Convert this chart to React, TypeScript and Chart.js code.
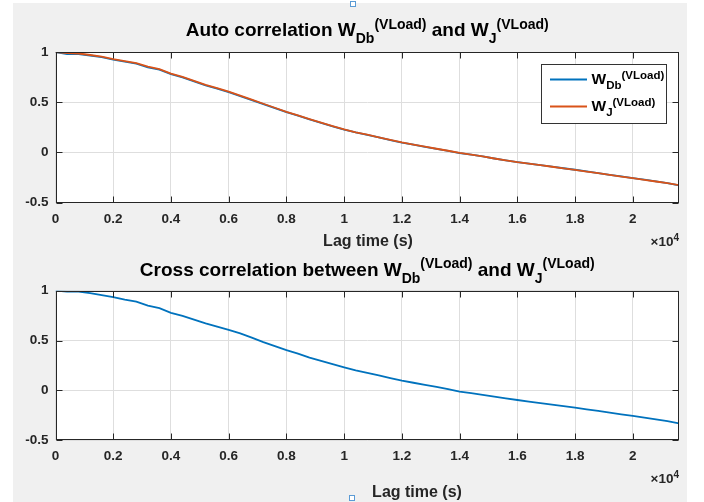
import React, { useEffect, useRef } from 'react';
import { Chart, registerables } from 'chart.js';

Chart.register(...registerables);

// ---------- data ----------
const lagTimes = [
  0, 400, 800, 1200, 1600, 2000, 2400, 2800, 3200, 3600, 4000, 4400, 4800, 5200,
  5600, 6000, 6400, 6800, 7200, 7600, 8000, 8400, 8800, 9200, 9600, 10000, 10400,
  10800, 11200, 11600, 12000, 12400, 12800, 13200, 13600, 14000, 14400, 14800,
  15200, 15600, 16000, 16400, 16800, 17200, 17600, 18000, 18400, 18800, 19200,
  19600, 20000, 20400, 20800, 21200, 21600,
];

const autoDb = [
  1.0, 0.98, 0.98, 0.965, 0.948, 0.925, 0.905, 0.885, 0.848, 0.825, 0.78, 0.747,
  0.707, 0.667, 0.635, 0.6, 0.56, 0.522, 0.482, 0.442, 0.402, 0.367, 0.33, 0.294,
  0.26, 0.228, 0.2, 0.175, 0.149, 0.124, 0.099, 0.078, 0.056, 0.036, 0.016,
  -0.006, -0.022, -0.04, -0.06, -0.079, -0.096, -0.111, -0.126, -0.141, -0.157,
  -0.172, -0.189, -0.205, -0.222, -0.239, -0.255, -0.271, -0.288, -0.305, -0.327,
];

const autoJ = [
  1.0, 0.99, 0.985, 0.97, 0.955, 0.93, 0.91, 0.89, 0.855, 0.83, 0.785, 0.752,
  0.712, 0.672, 0.64, 0.605, 0.565, 0.525, 0.485, 0.445, 0.405, 0.37, 0.332,
  0.296, 0.262, 0.23, 0.201, 0.177, 0.15, 0.125, 0.1, 0.079, 0.057, 0.037, 0.017,
  -0.005, -0.022, -0.04, -0.06, -0.079, -0.097, -0.112, -0.127, -0.142, -0.158,
  -0.173, -0.19, -0.206, -0.223, -0.24, -0.256, -0.272, -0.289, -0.305, -0.325,
];

const crossDbJ = [
  1.0, 0.99, 0.99, 0.975, 0.955, 0.935, 0.91, 0.89, 0.85, 0.825, 0.778, 0.748,
  0.71, 0.672, 0.64, 0.608, 0.572, 0.53, 0.485, 0.445, 0.405, 0.37, 0.33, 0.296,
  0.263, 0.232, 0.202, 0.176, 0.15, 0.123, 0.098, 0.077, 0.056, 0.035, 0.013,
  -0.012, -0.028, -0.045, -0.063, -0.08, -0.096, -0.112, -0.127, -0.142, -0.158,
  -0.173, -0.19, -0.206, -0.223, -0.24, -0.256, -0.272, -0.29, -0.308, -0.33,
];

const xTicks = [0, 2000, 4000, 6000, 8000, 10000, 12000, 14000, 16000, 18000, 20000];
const xTickLabels = ['0', '0.2', '0.4', '0.6', '0.8', '1', '1.2', '1.4', '1.6', '1.8', '2'];
const yTicks = [-0.5, 0, 0.5, 1];
const yTickLabels = ['-0.5', '0', '0.5', '1'];
const xMin = 0;
const xMax = 21600;
const yMin = -0.5;
const yMax = 1;

const xLabelText = 'Lag time (s)';
const legendNames = [
  { main: 'W', sub: 'Db', sup: '(VLoad)' },
  { main: 'W', sub: 'J', sup: '(VLoad)' },
];

// ---------- styling ----------
const BLUE = '#0072BD';
const ORANGE = '#D95319';
const AXIS = '#262626';
const GRID = '#dedede';
const FONT = '"Liberation Sans", Arial, Helvetica, sans-serif';
const W = 704;
const H = 502;

type Seg = { t: string; size: number; dy: number };

function drawRich(
  ctx: CanvasRenderingContext2D,
  segs: Seg[],
  x: number,
  y: number,
  align: 'left' | 'center' | 'right',
  color: string
) {
  let total = 0;
  const widths = segs.map((s) => {
    ctx.font = `bold ${s.size}px ${FONT}`;
    const w = ctx.measureText(s.t).width;
    total += w;
    return w;
  });
  let cx = align === 'center' ? x - total / 2 : align === 'right' ? x - total : x;
  ctx.textAlign = 'left';
  ctx.textBaseline = 'alphabetic';
  ctx.fillStyle = color;
  segs.forEach((s, i) => {
    ctx.font = `bold ${s.size}px ${FONT}`;
    ctx.fillText(s.t, cx, y + s.dy);
    cx += widths[i];
  });
}

type PanelCfg = {
  top: number;
  bottom: number;
  datasets: { label: string; data: number[]; color: string; order: number }[];
  title: Seg[];
  titleY: number;
  xLabelX: number;
  xLabelY: number;
  expY: number;
  legend: boolean;
};

function makeChart(canvas: HTMLCanvasElement, cfg: PanelCfg) {
  const xAxisH = 30;
  const panelPlugin = {
    id: 'panelDeco',
    beforeDraw(chart: any) {
      const { ctx, chartArea: a } = chart;
      ctx.save();
      ctx.fillStyle = '#ffffff';
      ctx.fillRect(a.left, a.top, a.right - a.left, a.bottom - a.top);
      ctx.restore();
    },
    afterDraw(chart: any) {
      const { ctx, chartArea: a, scales } = chart;
      ctx.save();
      ctx.strokeStyle = AXIS;
      ctx.lineWidth = 1;
      const L = Math.round(a.left) + 0.5;
      const R = Math.round(a.right) - 0.5;
      const T = Math.round(a.top) + 0.5;
      const B = Math.round(a.bottom) - 0.5;
      ctx.strokeRect(L, T, R - L, B - T);
      const tl = 6;
      ctx.beginPath();
      xTicks.forEach((v) => {
        const px = Math.round(scales.x.getPixelForValue(v)) + 0.5;
        ctx.moveTo(px, B);
        ctx.lineTo(px, B - tl);
        ctx.moveTo(px, T);
        ctx.lineTo(px, T + tl);
      });
      yTicks.forEach((v) => {
        const py = Math.round(scales.y.getPixelForValue(v)) + 0.5;
        ctx.moveTo(L, py);
        ctx.lineTo(L + tl, py);
        ctx.moveTo(R, py);
        ctx.lineTo(R - tl, py);
      });
      ctx.stroke();

      drawRich(ctx, cfg.title, (a.left + a.right) / 2, cfg.titleY, 'center', '#000000');
      drawRich(ctx, [{ t: xLabelText, size: 16, dy: 0 }], cfg.xLabelX, cfg.xLabelY, 'center', AXIS);
      drawRich(
        ctx,
        [
          { t: '\u00d710', size: 13.5, dy: 0 },
          { t: '4', size: 10, dy: -5.5 },
        ],
        a.right,
        cfg.expY,
        'right',
        AXIS
      );

      if (cfg.legend) {
        const bx = 541.5, by = 64.5, bw = 125, bh = 59;
        ctx.fillStyle = '#ffffff';
        ctx.fillRect(bx, by, bw, bh);
        ctx.strokeStyle = '#333333';
        ctx.lineWidth = 1;
        ctx.strokeRect(bx, by, bw, bh);
        const rows = [
          { y: 79.5, base: 83.5, color: cfg.datasets[0].color, n: legendNames[0] },
          { y: 106.5, base: 110.5, color: cfg.datasets[1].color, n: legendNames[1] },
        ];
        rows.forEach((r) => {
          ctx.strokeStyle = r.color;
          ctx.lineWidth = 2;
          ctx.beginPath();
          ctx.moveTo(550, r.y);
          ctx.lineTo(587, r.y);
          ctx.stroke();
          drawRich(
            ctx,
            [
              { t: r.n.main, size: 15.5, dy: 0 },
              { t: r.n.sub, size: 11.5, dy: 5.5 },
              { t: r.n.sup, size: 11.5, dy: -4.5 },
            ],
            591.5,
            r.base,
            'left',
            '#000000'
          );
        });
      }
      ctx.restore();
    },
  };

  return new Chart(canvas, {
    type: 'line',
    data: {
      datasets: cfg.datasets.map((d) => ({
        label: d.label,
        data: lagTimes.map((t, i) => ({ x: t, y: d.data[i] })),
        borderColor: d.color,
        backgroundColor: d.color,
        borderWidth: 1.8,
        pointRadius: 0,
        fill: false,
        tension: 0,
        order: d.order,
      })),
    },
    options: {
      animation: false,
      responsive: false,
      events: [],
      layout: {
        padding: { left: 0, top: cfg.top, right: W - 679, bottom: H - cfg.bottom - xAxisH },
      },
      plugins: {
        legend: { display: false },
        title: { display: false },
        tooltip: { enabled: false },
      },
      scales: {
        x: {
          type: 'linear',
          min: xMin,
          max: xMax,
          afterBuildTicks: (s: any) => {
            s.ticks = xTicks.map((v) => ({ value: v }));
          },
          afterFit: (s: any) => {
            s.height = xAxisH;
          },
          grid: { color: GRID, lineWidth: 1, drawTicks: false },
          border: { display: false },
          ticks: {
            padding: 8,
            color: AXIS,
            font: { family: FONT, size: 13.5, weight: 'bold' },
            maxRotation: 0,
            autoSkip: false,
            callback: (v: any) => {
              const i = xTicks.indexOf(Number(v));
              return i >= 0 ? xTickLabels[i] : '';
            },
          },
        },
        y: {
          type: 'linear',
          min: yMin,
          max: yMax,
          afterBuildTicks: (s: any) => {
            s.ticks = yTicks.map((v) => ({ value: v }));
          },
          afterFit: (s: any) => {
            s.width = 55.5;
          },
          grid: { color: GRID, lineWidth: 1, drawTicks: false },
          border: { display: false },
          ticks: {
            padding: 7,
            color: AXIS,
            font: { family: FONT, size: 13.5, weight: 'bold' },
            autoSkip: false,
            callback: (v: any) => {
              const i = yTicks.indexOf(Number(v));
              return i >= 0 ? yTickLabels[i] : '';
            },
          },
        },
      },
    } as any,
    plugins: [panelPlugin],
  });
}

const SUP = 14;

export default function App() {
  const topRef = useRef<HTMLCanvasElement>(null);
  const botRef = useRef<HTMLCanvasElement>(null);

  useEffect(() => {
    const c1 = makeChart(topRef.current!, {
      top: 52,
      bottom: 202.7,
      datasets: [
        { label: 'W_Db^(VLoad)', data: autoDb, color: BLUE, order: 1 },
        { label: 'W_J^(VLoad)', data: autoJ, color: ORANGE, order: 0 },
      ],
      title: [
        { t: 'Auto correlation W', size: 19, dy: 0 },
        { t: 'Db', size: SUP, dy: 7 },
        { t: '(VLoad)', size: SUP, dy: -7.5 },
        { t: ' and W', size: 19, dy: 0 },
        { t: 'J', size: SUP, dy: 7 },
        { t: '(VLoad)', size: SUP, dy: -7.5 },
      ],
      titleY: 36,
      xLabelX: 368,
      xLabelY: 245.5,
      expY: 246,
      legend: true,
    });
    const c2 = makeChart(botRef.current!, {
      top: 290.7,
      bottom: 440.3,
      datasets: [{ label: 'Cross correlation', data: crossDbJ, color: BLUE, order: 0 }],
      title: [
        { t: 'Cross correlation between W', size: 19, dy: 0 },
        { t: 'Db', size: SUP, dy: 7 },
        { t: '(VLoad)', size: SUP, dy: -8 },
        { t: ' and W', size: 19, dy: 0 },
        { t: 'J', size: SUP, dy: 7 },
        { t: '(VLoad)', size: SUP, dy: -8 },
      ],
      titleY: 276,
      xLabelX: 417,
      xLabelY: 496.5,
      expY: 483.3,
      legend: false,
    });
    return () => {
      c1.destroy();
      c2.destroy();
    };
  }, []);

  const canvasStyle: React.CSSProperties = {
    position: 'absolute',
    left: 0,
    top: 0,
    width: W,
    height: H,
  };
  const handle: React.CSSProperties = {
    position: 'absolute',
    width: 4,
    height: 4,
    border: '1px solid #5b9bd5',
    background: '#ffffff',
  };

  return (
    <div
      style={{
        position: 'fixed',
        left: 0,
        top: 0,
        width: W,
        height: H,
        background: '#ffffff',
        overflow: 'hidden',
      }}
    >
      <div
        style={{
          position: 'absolute',
          left: 13,
          top: 3,
          width: 674,
          height: H - 3,
          background: '#f0f0f0',
        }}
      />
      <canvas ref={topRef} width={W} height={H} style={canvasStyle} />
      <canvas ref={botRef} width={W} height={H} style={canvasStyle} />
      <div style={{ ...handle, left: 350, top: 1 }} />
      <div style={{ ...handle, left: 349, top: 495 }} />
    </div>
  );
}
